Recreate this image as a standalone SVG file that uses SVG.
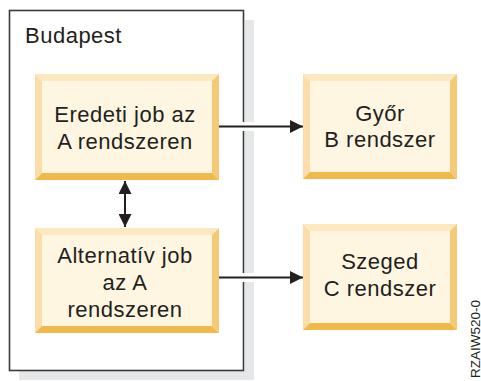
<svg xmlns="http://www.w3.org/2000/svg" width="481" height="381" viewBox="0 0 481 381">
<defs>
<style>
.t{font-family:"Liberation Sans",Arial,sans-serif;font-size:22px;fill:#231f20;text-anchor:middle;letter-spacing:0.5px}
.fill{fill:#fef6e1}
.bt{fill:#fde8c0}
.bl{fill:#fcdca8}
.br{fill:#f6c977}
.bb{fill:#f1b94a}
.ln{stroke:#231f20;stroke-width:2;fill:none}
</style>
<marker id="ah" viewBox="0 0 10 10" refX="10" refY="5" markerWidth="6.5" markerHeight="6.5" orient="auto-start-reverse" markerUnits="strokeWidth">
<path d="M0,0 L10,5 L0,10 z" fill="#231f20"/>
</marker>
</defs>
<rect width="481" height="381" fill="#ffffff"/>
<g id="budapest">
<rect x="245" y="20" width="9" height="360" fill="#e6e7e8"/>
<rect x="19" y="371" width="235" height="9" fill="#e6e7e8"/>
<rect x="9.5" y="10.5" width="234" height="360" fill="#ffffff" stroke="#3a3a3a" stroke-width="1.6"/>
<text x="25" y="43" style="font-family:'Liberation Sans',Arial,sans-serif;font-size:22px;fill:#231f20;letter-spacing:0.5px">Budapest</text>
</g>
<g id="eredeti">
<rect x="35" y="74" width="184" height="106" class="fill"/>
<polygon points="35,74 219,74 212,81 42,81" class="bt"/>
<polygon points="35,74 42,81 42,173 35,180" class="bl"/>
<polygon points="219,74 219,180 212,173 212,81" class="br"/>
<polygon points="35,180 219,180 212,173 42,173" class="bb"/>
<text class="t" x="125" y="122">Eredeti job az</text>
<text class="t" x="125" y="149">A rendszeren</text>
</g>
<g id="alternativ">
<rect x="35" y="228" width="184" height="105" class="fill"/>
<polygon points="35,228 219,228 212,235 42,235" class="bt"/>
<polygon points="35,228 42,235 42,326 35,333" class="bl"/>
<polygon points="219,228 219,333 212,326 212,235" class="br"/>
<polygon points="35,333 219,333 212,326 42,326" class="bb"/>
<text class="t" x="125" y="263">Alternatív job</text>
<text class="t" x="125" y="290">az A</text>
<text class="t" x="125" y="317">rendszeren</text>
</g>
<g id="gyor">
<rect x="303" y="74" width="154" height="105" class="fill"/>
<polygon points="303,74 457,74 450,81 310,81" class="bt"/>
<polygon points="303,74 310,81 310,172 303,179" class="bl"/>
<polygon points="457,74 457,179 450,172 450,81" class="br"/>
<polygon points="303,179 457,179 450,172 310,172" class="bb"/>
<text class="t" x="380" y="121">Győr</text>
<text class="t" x="380" y="147">B rendszer</text>
</g>
<g id="szeged">
<rect x="303" y="224" width="154" height="106" class="fill"/>
<polygon points="303,224 457,224 450,231 310,231" class="bt"/>
<polygon points="303,224 310,231 310,323 303,330" class="bl"/>
<polygon points="457,224 457,330 450,323 450,231" class="br"/>
<polygon points="303,330 457,330 450,323 310,323" class="bb"/>
<text class="t" x="380" y="269">Szeged</text>
<text class="t" x="380" y="296">C rendszer</text>
</g>
<g id="connectors">
<rect x="239" y="122" width="18" height="9" fill="#ffffff"/>
<rect x="239" y="273" width="18" height="9" fill="#ffffff"/>
<line class="ln" x1="219" y1="126.5" x2="303" y2="126.5" marker-end="url(#ah)"/>
<line class="ln" x1="219" y1="277.5" x2="303" y2="277.5" marker-end="url(#ah)"/>
<line class="ln" x1="125" y1="181" x2="125" y2="227" marker-start="url(#ah)" marker-end="url(#ah)"/>
</g>
<text transform="translate(479.5,378) rotate(-90)" style="font-family:'Liberation Sans',Arial,sans-serif;font-size:13.5px;fill:#231f20">RZAIW520-0</text>
</svg>
